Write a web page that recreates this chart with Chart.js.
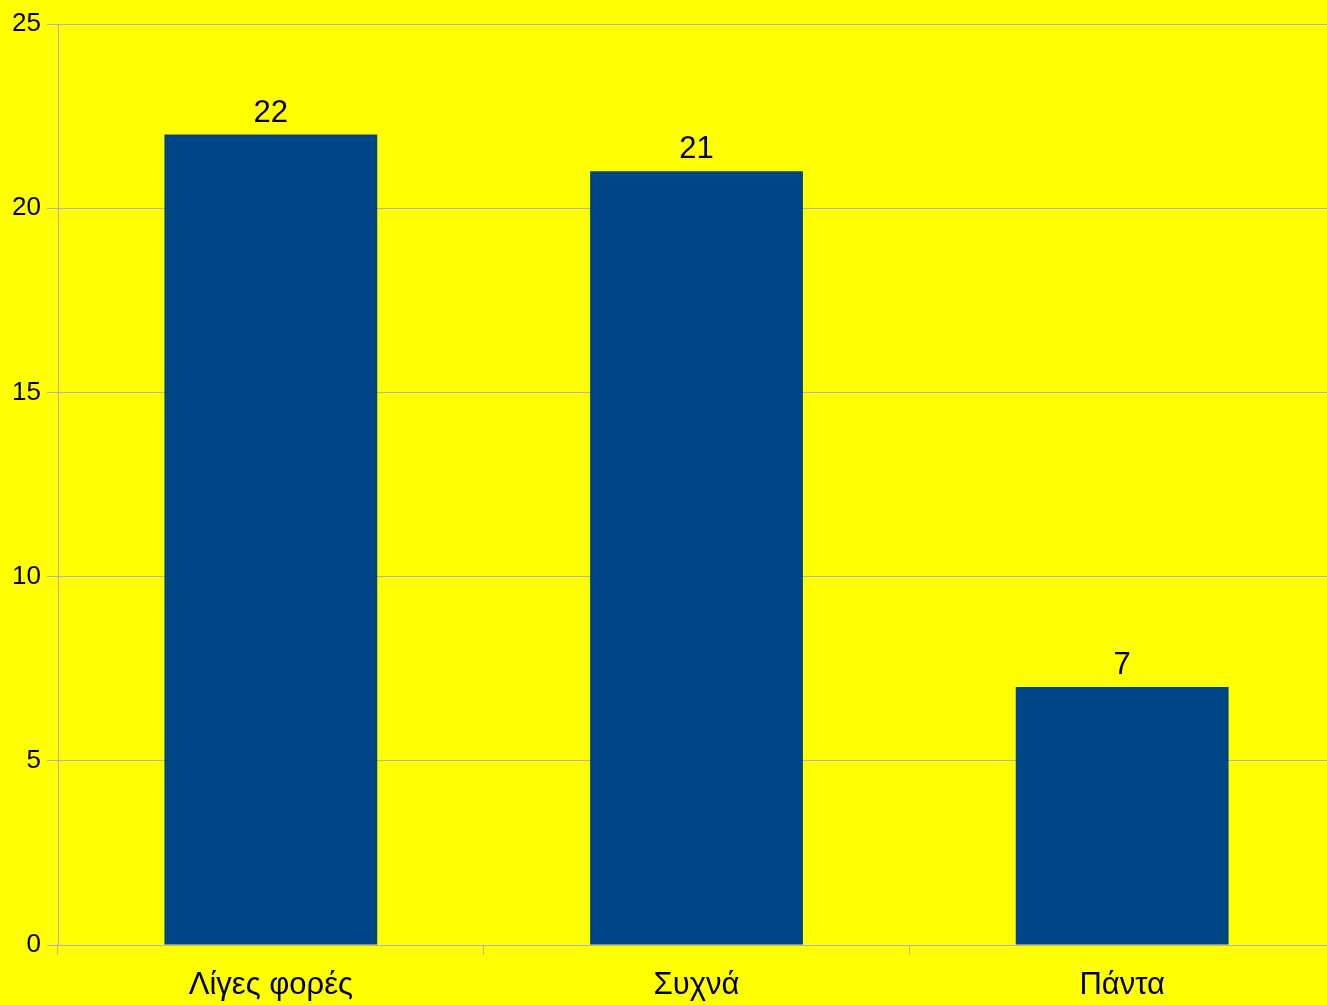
<!DOCTYPE html>
<html>
<head>
<meta charset="utf-8">
<script src="https://cdn.jsdelivr.net/npm/chart.js@4"></script>
<style>
    html, body { margin: 0; padding: 0; background: #ffff00; overflow: hidden; }
    #wrap { width: 1335px; height: 1005px; }
</style>
</head>
<body>
<div id="wrap"><canvas id="barChart"></canvas></div>
<script>
const categories = ['Λίγες φορές', 'Συχνά', 'Πάντα'];
const counts = [22, 21, 7];
const yTicks = [0, 5, 10, 15, 20, 25];

// draw the value above each bar
const valueLabels = {
    id: 'valueLabels',
    afterDatasetsDraw(chart) {
        const ctx = chart.ctx;
        ctx.save();
        ctx.font = '31px "Liberation Sans", Arial, sans-serif';
        ctx.fillStyle = '#000';
        ctx.textAlign = 'center';
        ctx.textBaseline = 'alphabetic';
        chart.getDatasetMeta(0).data.forEach((bar, i) => {
            ctx.fillText(counts[i], bar.x, bar.y - 13);
        });
        ctx.restore();
    }
};

const ctx = document.getElementById('barChart').getContext('2d');
new Chart(ctx, {
    type: 'bar',
    data: {
        labels: categories,
        datasets: [{
            data: counts,
            backgroundColor: '#004586',
            barPercentage: 0.5,
            categoryPercentage: 1.0
        }]
    },
    options: {
        responsive: true,
        maintainAspectRatio: false,
        animation: false,
        layout: { padding: { top: 24, right: 0, left: 0, bottom: 0 } },
        plugins: {
            legend: { display: false },
            tooltip: { enabled: false }
        },
        scales: {
            x: {
                offset: true,
                grid: {
                    offset: true,
                    drawOnChartArea: false,
                    drawTicks: true,
                    tickLength: 10,
                    color: '#b3b3b3'
                },
                border: { color: '#b3b3b3' },
                ticks: {
                    color: '#000',
                    font: { family: '"Liberation Sans", Arial, sans-serif', size: 31 },
                    padding: 12
                },
                afterFit(scale) { scale.height = 60; }
            },
            y: {
                min: 0,
                max: 25,
                afterBuildTicks(scale) {
                    scale.ticks = yTicks.map(v => ({ value: v }));
                },
                grid: {
                    color: '#b3b3b3',
                    tickLength: 11
                },
                border: { color: '#b3b3b3' },
                ticks: {
                    color: '#000',
                    font: { family: '"Liberation Sans", Arial, sans-serif', size: 26 },
                    padding: 6
                },
                afterFit(scale) { scale.width = 58; }
            }
        }
    },
    plugins: [valueLabels]
});
</script>
</body>
</html>
